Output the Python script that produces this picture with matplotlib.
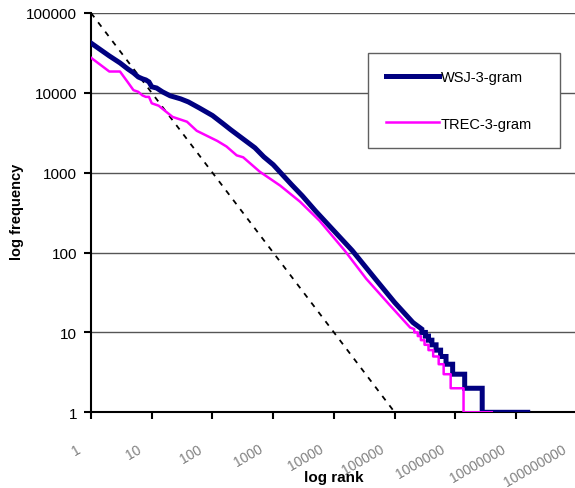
import numpy as np
import matplotlib
matplotlib.use("Agg")
import matplotlib.pyplot as plt
from matplotlib.transforms import ScaledTranslation

plt.rcParams['font.family'] = ['Liberation Sans', 'DejaVu Sans']

# rank / frequency (main, smooth part)
wsj_rank = [1, 2, 3, 4, 5, 6, 7, 8, 9, 10, 12, 15, 20, 30, 40, 60, 100, 150, 200,
            300, 500, 700, 1000, 2000, 3000, 5000, 10000, 20000, 50000, 100000, 200000,
            280000]
wsj_freq = [42000, 29000, 23700, 20000, 17800, 15800, 15000, 14500, 13700, 11900, 11500,
            10300, 9200, 8400, 7700, 6500, 5200, 4100, 3450, 2740, 2050, 1580, 1260,
            710, 515, 330, 187, 106, 45, 23.7, 13.3, 11]

trec_rank = [1, 2, 3, 4, 5, 6, 7, 8, 9, 10, 13, 22, 38, 55, 120, 170, 250, 320, 600,
             1300, 2750, 5800, 15000, 34000, 83000, 180000, 210000]
trec_freq = [27500, 18500, 18500, 13700, 10800, 10300, 9300, 8900, 8900, 7400, 6900,
             5000, 4350, 3350, 2500, 2130, 1650, 1560, 1030, 690, 435, 250, 106, 47,
             22, 11.5, 11]

# low-frequency tail: last rank that has each frequency
tail_freq = [10, 9, 8, 7, 6, 5, 4, 3, 2, 1]
wsj_tail_last = [320e3, 360e3, 410e3, 480e3, 570e3, 700e3, 900e3, 1.42e6, 2.76e6, 15.5e6]
trec_tail_last = [240e3, 270e3, 310e3, 360e3, 430e3, 530e3, 640e3, 835e3, 1.36e6, 3.97e6]

zipf_rank = [1, 100000]
zipf_freq = [100000, 1]

xticks = [10 ** k for k in range(9)]
xtick_labels = [str(v) for v in xticks]
yticks = [1, 10, 100, 1000, 10000, 100000]


def with_tail(rank, freq, last):
    r = list(rank)
    f = list(freq)
    start = rank[-1]
    for lev, end in zip(tail_freq, last):
        r += [start, end]
        f += [lev, lev]
        start = end
    return r, f


wr, wf = with_tail(wsj_rank, wsj_freq, wsj_tail_last)
tr, tf = with_tail(trec_rank, trec_freq, trec_tail_last)

fig = plt.figure(figsize=(5.75, 4.89), dpi=100)
ax = fig.add_axes([0.1583, 0.1548, 0.845, 0.8166])

ax.plot(wr, wf, color='#000080', lw=3.6, label='WSJ-3-gram', zorder=3,
        solid_joinstyle='miter')
ax.plot(tr, tf, color='#FF00FF', lw=1.8, label='TREC-3-gram', zorder=4)
ax.plot(zipf_rank, zipf_freq, color='black', lw=1.3, ls=(0, (3, 3.5)), zorder=2)

ax.set_xscale('log')
ax.set_yscale('log')
ax.set_xlim(1, 1e8)
ax.set_ylim(1, 100000)
ax.set_xticks(xticks)
ax.set_xticklabels(xtick_labels)
ax.set_yticks(yticks)
ax.set_yticklabels([str(v) for v in yticks])
ax.minorticks_off()

ax.yaxis.grid(True, color='#555555', lw=1)
ax.set_axisbelow(True)
for s in ['top', 'right']:
    ax.spines[s].set_visible(False)
for s in ['left', 'bottom']:
    ax.spines[s].set_linewidth(1.5)

ax.tick_params(axis='y', direction='out', length=5, width=1.5, pad=5, labelsize=11)
ax.tick_params(axis='x', direction='out', length=5, width=1.5, pad=16, labelsize=10,
               labelcolor='#808080')
for lab in ax.get_xticklabels():
    lab.set_rotation(30)
    lab.set_ha('right')
    lab.set_va('top')
    lab.set_rotation_mode('anchor')
    lab.set_transform(lab.get_transform() + ScaledTranslation(-11 / 72, 0, fig.dpi_scale_trans))

fig.text(0.5809, 1 - 478 / 489, 'log rank', fontsize=11, fontweight='bold',
         ha='center', va='center')
fig.text(17 / 575, 1 - 212 / 489, 'log frequency', fontsize=10.5, fontweight='bold',
         rotation=90, ha='center', va='center')

leg = ax.legend(loc='upper left', bbox_to_anchor=(368 / 575, 1 - 54 / 489, 192 / 575, 0),
                bbox_transform=fig.transFigure, mode='expand', borderaxespad=0,
                fontsize=10.5, frameon=True, fancybox=False, handlelength=3.7,
                handletextpad=0.1, labelspacing=2.2, borderpad=1.2)
leg.get_frame().set_edgecolor('#606060')
leg.get_frame().set_linewidth(1.0)
leg.get_frame().set_alpha(1)

fig.savefig('out.png', dpi=100)
